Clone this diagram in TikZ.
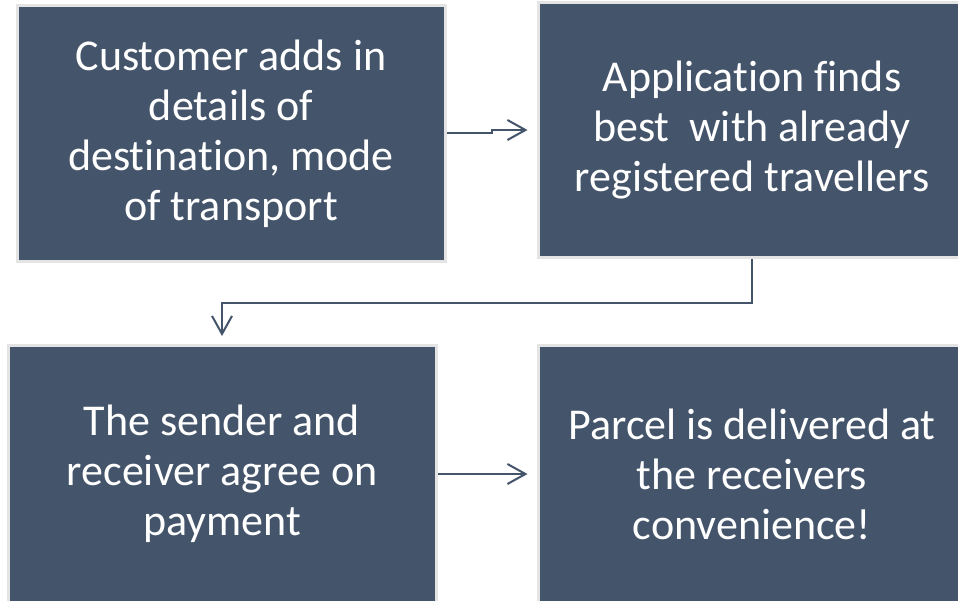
\documentclass[tikz,border=0pt]{standalone}
\usepackage{fontspec}
\setmainfont{Carlito}[Ligatures=NoCommon]
\usetikzlibrary{arrows.meta}
\definecolor{slate}{HTML}{44546A}
\definecolor{rim}{HTML}{E4E4E4}
\tikzset{
  stagebox/.style={rectangle, fill=slate, draw=rim, line width=3pt,
    minimum width=428pt, inner sep=0pt, text=white, align=center,
    font=\fontsize{44}{50}\selectfont},
  flowarrow/.style={draw=slate, line width=2pt,
    -{Straight Barb[length=18pt,width=20pt,line width=2pt]}}
}
\begin{document}
\begin{tikzpicture}[x=1pt, y=-1pt]
  \useasboundingbox (0,0) rectangle (958,601);
  \clip (0,0) rectangle (958,601);
  \fill[white] (0,0) rectangle (958,601);

  % the four stages
  \node[stagebox, minimum height=256pt] (b1) at (231,133.5)
    {Customer adds in\\details of\\destination, mode\\of transport};
  \node[stagebox, minimum height=255pt] (b2) at (752,130)
    {Application finds\\best\ \ with already\\registered travellers};
  \node[stagebox, minimum height=257pt] (b3) at (222,474)
    {The sender and\\receiver agree on\\payment};
  \node[stagebox, minimum height=257pt] (b4) at (752,474)
    {Parcel is delivered at\\the receivers\\convenience!};

  % connectors between the stages
  \draw[flowarrow] (b1.east) -- (492,133.5) |- ([xshift=-9pt]b2.west);
  \draw[flowarrow] (b2.south) -- ++(0,44) -| ([yshift=8pt]b3.north);
  \draw[flowarrow] (b3.east) -- ([xshift=-9pt]b4.west);
\end{tikzpicture}
\end{document}
